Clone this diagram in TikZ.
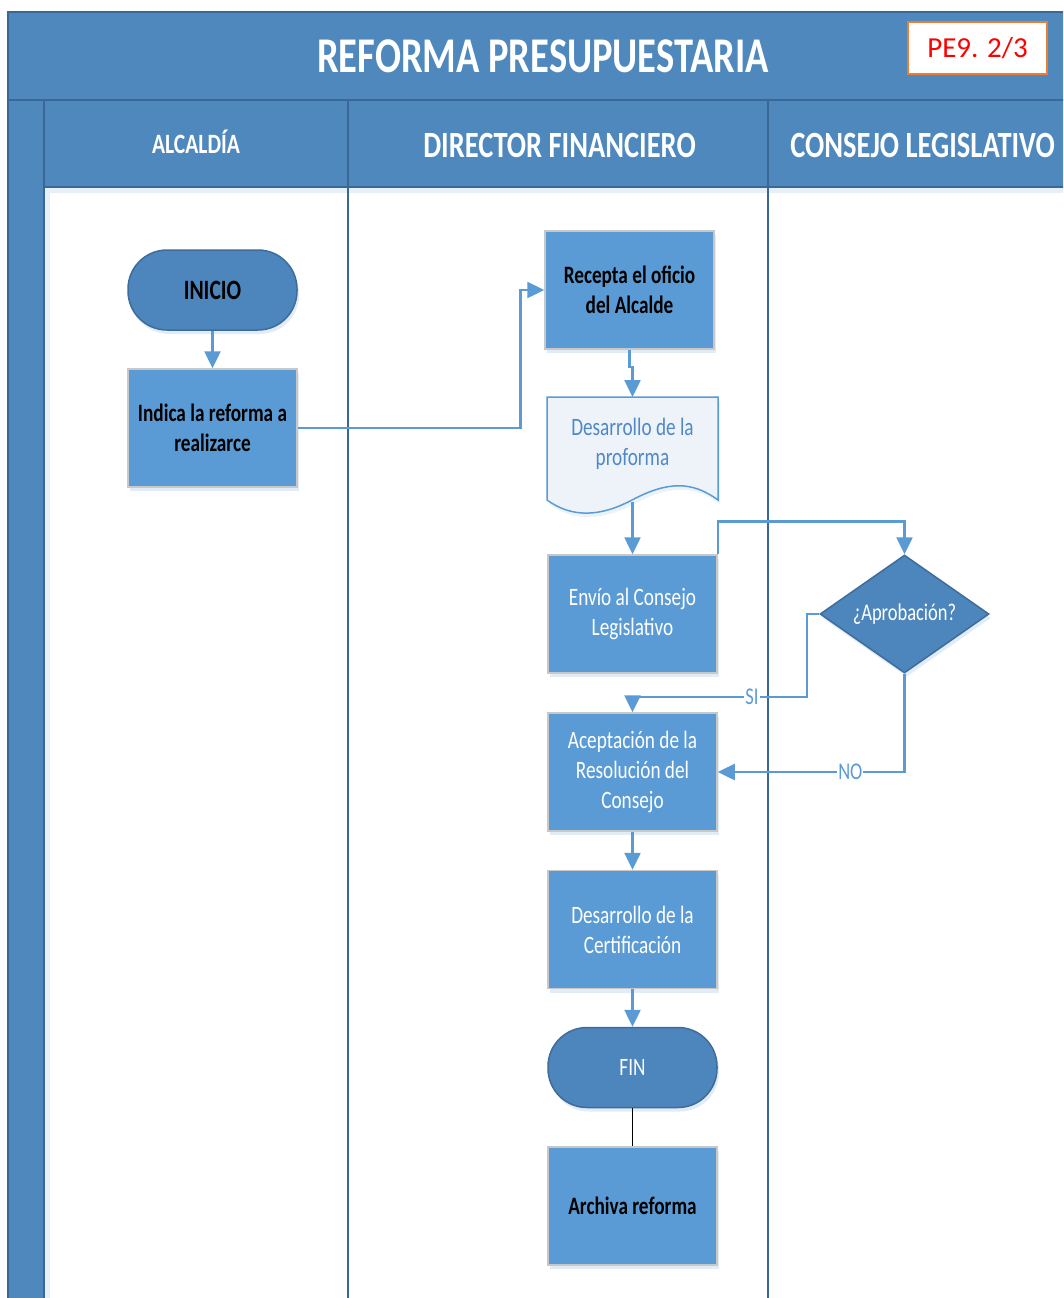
\documentclass[tikz,border=0pt]{standalone}
\usepackage{fontspec}
\setmainfont{Carlito}
\newfontfamily\cond[FakeStretch=0.77]{Carlito}
\usetikzlibrary{arrows.meta,shadows,calc,shapes.geometric}
\definecolor{band}{RGB}{79,136,189}
\definecolor{bandline}{RGB}{58,104,150}
\definecolor{boxfill}{RGB}{91,155,213}
\definecolor{boxline}{RGB}{200,200,200}
\definecolor{termfill}{RGB}{76,134,189}
\definecolor{termline}{RGB}{62,108,155}
\definecolor{flow}{RGB}{91,155,213}
\definecolor{doctext}{RGB}{79,136,200}
\definecolor{docfill}{RGB}{238,243,250}
\definecolor{tagline}{RGB}{237,125,49}
\begin{document}
\begin{tikzpicture}[x=1pt,y=-1pt,
  softshadow/.style={drop shadow={shadow xshift=2pt,shadow yshift=-4pt,fill=boxfill!40,opacity=0.45}},
  procbox/.style={draw=boxline,line width=1.5pt,fill=boxfill,minimum width=169pt,minimum height=118pt,
    inner sep=0pt,align=center,font=\cond\fontsize{25}{30}\selectfont,softshadow},
  term/.style={draw=termline,line width=1.5pt,fill=termfill,minimum width=169pt,minimum height=80pt,
    rounded corners=39pt,inner sep=0pt,font=\cond\fontsize{25}{30}\selectfont,softshadow},
  decision/.style={diamond,aspect=1.43,draw=termline,line width=1.5pt,fill=termfill,minimum width=169pt,
    minimum height=118pt,inner sep=0pt,text=white,font=\cond\fontsize{24}{28}\selectfont,softshadow},
  flowline/.style={draw=flow,line width=2.5pt,-{Triangle[width=16pt,length=17pt]}},
  lbl/.style={fill=white,text=flow,inner sep=1pt,font=\cond\fontsize{24}{24}\selectfont},
  lanetitle/.style={text=white,font=\cond\bfseries\fontsize{37}{40}\selectfont,anchor=base},
]
\useasboundingbox (0,0) rectangle (1063,1298);
\clip (0,0) rectangle (1063,1298);
\fill[white] (0,0) rectangle (1063,1298);

% pool frame, title band, lane headers and the left strip
\fill[band] (8,12) rectangle (1070,187);
\fill[band] (8,187) rectangle (44,1300);
\fill[boxfill!15] (44,187) rectangle (1070,193);
\fill[boxfill!15] (44,193) rectangle (50,1300);
\draw[bandline,line width=1.5pt] (8,1300) -- (8,12) -- (1070,12);
\draw[bandline,line width=2pt] (8,100) -- (1070,100);
\draw[bandline,line width=2pt] (44,187) -- (1070,187);
\draw[bandline,line width=1.5pt] (44,100) -- (44,1300);
\draw[bandline,line width=1.5pt] (348,100) -- (348,1300);
\draw[bandline,line width=1.5pt] (768,100) -- (768,1300);

\node[text=white,font=\cond\bfseries\fontsize{50}{52}\selectfont,anchor=base] (title) at (543,72) {REFORMA PRESUPUESTARIA};
\node[draw=tagline,line width=2.5pt,fill=white,minimum width=139pt,minimum height=52pt,inner sep=0pt,
  text=red,font=\fontsize{29}{30}\selectfont] (tag) at (977.5,48) {PE9. 2/3};

\node[lanetitle,font=\cond\bfseries\fontsize{28}{30}\selectfont] (laneA) at (196,153) {ALCALDÍA};
\node[lanetitle] (laneB) at (559.5,157) {DIRECTOR FINANCIERO};
\node[lanetitle] (laneC) at (922.5,157) {CONSEJO LEGISLATIVO};

% process steps
\node[term,font=\cond\bfseries\fontsize{28}{30}\selectfont] (inicio) at (212.5,290) {INICIO};
\node[procbox,font=\cond\bfseries\fontsize{25}{30}\selectfont] (indica) at (212.5,428) {Indica la reforma a\\realizarce};
\node[procbox,font=\cond\bfseries\fontsize{25}{30}\selectfont] (recepta) at (629.5,290) {Recepta el oficio\\del Alcalde};

% document shape with a wavy lower edge
\draw[flow,line width=1.5pt,fill=docfill,drop shadow={shadow xshift=2pt,shadow yshift=-4pt,fill=boxfill!30,opacity=0.4}]
  (547,397) -- (718,397) -- (718,500) .. controls (692,481) and (668,481) .. (632,500)
  .. controls (600,517) and (572,518) .. (547,500) -- cycle;
\node[align=center,text=doctext,inner sep=0pt,font=\cond\fontsize{25}{30}\selectfont] (doc) at (632.5,444) {Desarrollo de la\\proforma};
\coordinate (doctop) at (632.5,397);
\coordinate (docbot) at (632.5,502);

\node[procbox,text=white] (envio) at (632.5,614) {Envío al Consejo\\Legislativo};
\node[decision] (aprob) at (904.5,614) {¿Aprobación?};
\node[procbox,text=white] (acept) at (632.5,772) {Aceptación de la\\Resolución del\\Consejo};
\node[procbox,text=white] (cert) at (632.5,929.5) {Desarrollo de la\\Certificación};
\node[term,text=white] (fin) at (632.5,1067.5) {FIN};
\node[procbox,font=\cond\bfseries\fontsize{25}{30}\selectfont] (archiva) at (632.5,1206) {Archiva reforma};

% connectors
\draw[flowline] (inicio) -- (indica);
\draw[flowline] (indica.east) -- ++(222.5,0) |- (recepta.west);
\draw[flowline] (recepta.south) -- ++(0,17) -| (doctop);
\draw[flowline] (docbot) -- (envio.north);
\draw[flowline] (envio.north east) -- ++(0,-33) -| (aprob.north);
\coordinate (sibend) at (807,697);
\draw[flowline] (aprob.west) -| (sibend) -- node[lbl,pos=0.315] (si) {SI} (sibend -| acept.north) -- (acept.north);
\draw[flowline] (aprob.south) |- node[lbl,pos=0.645] (no) {NO} (acept.east);
\draw[flowline] (acept) -- (cert);
\draw[flowline] (cert) -- (fin);
\draw[black,line width=1.5pt] (fin) -- (archiva);
\end{tikzpicture}
\end{document}
